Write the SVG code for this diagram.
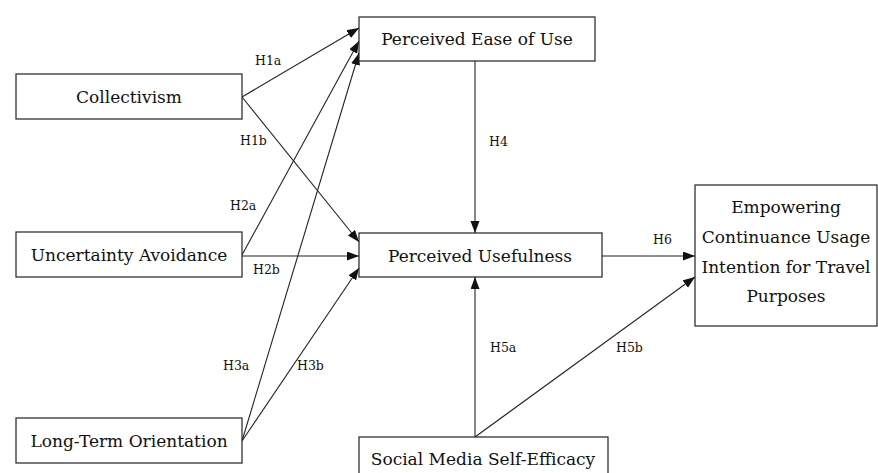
<svg xmlns="http://www.w3.org/2000/svg" width="878" height="473" viewBox="0 0 878 473">
<style>
.box{fill:#fff;stroke:#222;stroke-width:1.2}
.t{font-family:"DejaVu Serif","Liberation Serif",serif;font-size:17px;fill:#111;text-anchor:middle}
.l{font-family:"DejaVu Serif","Liberation Serif",serif;font-size:12.5px;fill:#111}
.c{stroke:#222;stroke-width:1.1;fill:none;marker-end:url(#ah)}
</style>
<defs>
<marker id="ah" markerUnits="userSpaceOnUse" markerWidth="13" markerHeight="10" refX="12" refY="4.5" orient="auto">
<path d="M0,0 L12,4.5 L0,9 Z" fill="#111"/>
</marker>
</defs>
<rect width="878" height="473" fill="#fff"/>
<g id="connectors">
<line class="c" x1="242" y1="97" x2="359" y2="28"/>
<line class="c" x1="242" y1="97" x2="359" y2="242"/>
<line class="c" x1="242" y1="255" x2="359" y2="41"/>
<line class="c" x1="242" y1="256" x2="359" y2="256"/>
<line class="c" x1="242" y1="441" x2="359" y2="53"/>
<line class="c" x1="242" y1="441" x2="359" y2="268"/>
<line class="c" x1="475" y1="61" x2="475" y2="233"/>
<line class="c" x1="475" y1="437" x2="475" y2="277"/>
<line class="c" x1="475" y1="437" x2="695" y2="277"/>
<line class="c" x1="602" y1="256" x2="695" y2="256"/>
</g>
<g id="labels">
<text class="l" x="255" y="65">H1a</text>
<text class="l" x="240" y="145">H1b</text>
<text class="l" x="230" y="210">H2a</text>
<text class="l" x="253" y="274">H2b</text>
<text class="l" x="223" y="370">H3a</text>
<text class="l" x="297" y="370">H3b</text>
<text class="l" x="489" y="146">H4</text>
<text class="l" x="490" y="352">H5a</text>
<text class="l" x="616" y="352">H5b</text>
<text class="l" x="653" y="244">H6</text>
</g>
<g id="collectivism"><rect class="box" x="16" y="74" width="226" height="45"/><text class="t" x="129" y="103">Collectivism</text></g>
<g id="uncertainty"><rect class="box" x="16" y="232" width="226" height="45"/><text class="t" x="129" y="261">Uncertainty Avoidance</text></g>
<g id="longterm"><rect class="box" x="16" y="418" width="226" height="45"/><text class="t" x="129" y="447">Long-Term Orientation</text></g>
<g id="peou"><rect class="box" x="359" y="17" width="236" height="44"/><text class="t" x="477" y="45">Perceived Ease of Use</text></g>
<g id="pu"><rect class="box" x="359" y="233" width="243" height="44"/><text class="t" x="480" y="262">Perceived Usefulness</text></g>
<g id="smse"><rect class="box" x="359" y="437" width="249" height="45"/><text class="t" x="483" y="465">Social Media Self-Efficacy</text></g>
<g id="empowering"><rect class="box" x="695" y="185" width="182" height="141"/>
<text class="t" x="786" y="213">Empowering</text>
<text class="t" x="786" y="243">Continuance Usage</text>
<text class="t" x="786" y="273">Intention for Travel</text>
<text class="t" x="786" y="302">Purposes</text>
</g>
</svg>
